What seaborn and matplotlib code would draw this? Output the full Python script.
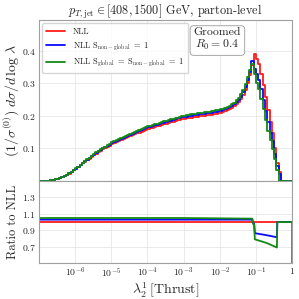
import numpy as np
import pandas as pd
import matplotlib
matplotlib.use("Agg")
import matplotlib.pyplot as plt
import seaborn as sns

# histogram values, 16 log-bins per decade from 1e-7 to 1
nll = [
    0.0, 0.0, 0.0002, 0.0005, 0.001, 0.002, 0.003, 0.005, 0.007, 0.009, 0.012, 0.015, 0.019, 0.023, 0.028, 0.033,
    0.037, 0.042, 0.048, 0.054, 0.059, 0.064, 0.069, 0.074, 0.079, 0.084, 0.088, 0.093, 0.097, 0.101, 0.105, 0.109,
    0.113, 0.116, 0.119, 0.122, 0.125, 0.128, 0.131, 0.134, 0.137, 0.140, 0.143, 0.146, 0.149, 0.152, 0.155, 0.158,
    0.160, 0.162, 0.164, 0.166, 0.168, 0.170, 0.172, 0.174, 0.176, 0.178, 0.180, 0.182, 0.184, 0.186, 0.188, 0.190,
    0.191, 0.192, 0.194, 0.195, 0.196, 0.197, 0.198, 0.199, 0.200, 0.201, 0.202, 0.203, 0.204, 0.205, 0.207, 0.208,
    0.210, 0.212, 0.215, 0.218, 0.221, 0.225, 0.230, 0.236, 0.243, 0.252, 0.264, 0.280, 0.300, 0.325, 0.355, 0.390,
    0.375, 0.360, 0.330, 0.295, 0.258, 0.218, 0.180, 0.148, 0.100, 0.055, 0.028, 0.0, 0.0, 0.0, 0.0, 0.0,
]
nll_sng = [
    0.0, 0.0, 0.0002, 0.0005, 0.001, 0.002, 0.003, 0.005, 0.007, 0.009, 0.012, 0.015, 0.020, 0.024, 0.029, 0.034,
    0.038, 0.043, 0.049, 0.056, 0.061, 0.066, 0.071, 0.076, 0.081, 0.087, 0.091, 0.096, 0.100, 0.104, 0.108, 0.112,
    0.116, 0.119, 0.123, 0.126, 0.129, 0.132, 0.135, 0.138, 0.141, 0.144, 0.147, 0.150, 0.153, 0.157, 0.160, 0.163,
    0.165, 0.167, 0.169, 0.171, 0.173, 0.175, 0.177, 0.179, 0.181, 0.183, 0.185, 0.187, 0.189, 0.192, 0.194, 0.196,
    0.197, 0.198, 0.200, 0.201, 0.202, 0.203, 0.204, 0.205, 0.206, 0.207, 0.208, 0.209, 0.210, 0.211, 0.213, 0.214,
    0.216, 0.218, 0.221, 0.224, 0.227, 0.231, 0.236, 0.242, 0.250, 0.259, 0.272, 0.290, 0.310, 0.335, 0.368, 0.345,
    0.330, 0.310, 0.282, 0.250, 0.215, 0.180, 0.148, 0.122, 0.083, 0.046, 0.022, 0.0, 0.0, 0.0, 0.0, 0.0,
]
nll_sg = [
    0.0, 0.0, 0.0002, 0.0005, 0.001, 0.002, 0.003, 0.005, 0.007, 0.010, 0.013, 0.016, 0.020, 0.024, 0.029, 0.035,
    0.039, 0.044, 0.050, 0.057, 0.062, 0.067, 0.072, 0.078, 0.083, 0.088, 0.092, 0.098, 0.102, 0.106, 0.110, 0.114,
    0.119, 0.122, 0.125, 0.128, 0.131, 0.134, 0.138, 0.141, 0.144, 0.147, 0.150, 0.153, 0.156, 0.160, 0.163, 0.166,
    0.168, 0.170, 0.172, 0.174, 0.176, 0.179, 0.181, 0.183, 0.185, 0.187, 0.189, 0.191, 0.193, 0.195, 0.197, 0.199,
    0.200, 0.202, 0.204, 0.205, 0.206, 0.207, 0.208, 0.209, 0.210, 0.211, 0.212, 0.213, 0.214, 0.215, 0.217, 0.218,
    0.220, 0.222, 0.225, 0.228, 0.231, 0.236, 0.241, 0.248, 0.256, 0.266, 0.280, 0.298, 0.318, 0.340, 0.358, 0.330,
    0.300, 0.282, 0.252, 0.222, 0.188, 0.155, 0.125, 0.098, 0.068, 0.035, 0.0, 0.0, 0.0, 0.0, 0.0, 0.0,
]

# ratio curves (log10 lambda, ratio)
ratio_nll_x = [-7.0, 0.0]
ratio_nll_y = [1.0, 1.0]
ratio_sng_x = [-7.0, -7.0, -1.10, -1.075, -1.05, -1.03, -0.7, -0.42, -0.41, 0.0]
ratio_sng_y = [0.0, 1.03, 1.03, 0.985, 0.985, 0.865, 0.84, 0.815, 1.0, 1.0]
ratio_sg_x = [-7.0, -7.0, -3.0, -1.10, -1.075, -1.05, -1.03, -0.7, -0.42, -0.41, 0.0, 0.0]
ratio_sg_y = [0.0, 1.05, 1.05, 1.042, 0.975, 0.975, 0.79, 0.745, 0.69, 1.0, 1.0, 0.0]

labels = ["NLL", r"NLL $\mathrm{S}_{\mathrm{non-global}}\ =\ 1$",
          r"NLL $\mathrm{S}_{\mathrm{global}}\ =\ \mathrm{S}_{\mathrm{non-global}}\ =\ 1$"]
colors = ["#ff1a1a", "#0a0aff", "#138a13"]

sns.set_style("whitegrid")
plt.rcParams["font.family"] = ["cmr10", "DejaVu Serif"]
plt.rcParams["mathtext.fontset"] = "cm"
plt.rcParams["axes.formatter.use_mathtext"] = True
plt.rcParams["axes.unicode_minus"] = False

edges = 10 ** np.linspace(-7, 0, len(nll) + 1)

fig = plt.figure(figsize=(2.99, 2.99), dpi=100)
gs = fig.add_gridspec(2, 1, height_ratios=[161, 82], hspace=0,
                      left=0.13, right=0.977, top=0.933, bottom=0.12)
ax = fig.add_subplot(gs[0])
axr = fig.add_subplot(gs[1], sharex=ax)

for a in (ax, axr):
    a.set_xscale("log")
    a.grid(True, color="#e6e6e6", lw=0.6)
    for s in a.spines.values():
        s.set_color("#a0a0a0")
        s.set_linewidth(0.8)
    a.tick_params(direction="in", length=3, width=0.6, color="#808080",
                  labelsize=7, pad=2)
    a.minorticks_off()

for vals, lab, col in zip([nll, nll_sng, nll_sg], labels, colors):
    df = pd.DataFrame({"x": edges, "y": list(vals) + [vals[-1]]})
    sns.lineplot(data=df, x="x", y="y", ax=ax, color=col, lw=1.3,
                 drawstyle="steps-post", label=lab, estimator=None)

for xs, ys, col in zip([ratio_nll_x, ratio_sng_x, ratio_sg_x],
                       [ratio_nll_y, ratio_sng_y, ratio_sg_y], colors):
    df = pd.DataFrame({"x": 10 ** np.array(xs), "y": ys})
    sns.lineplot(data=df, x="x", y="y", ax=axr, color=col, lw=1.3,
                 sort=False, estimator=None)

ax.set_xlim(10 ** -7.0, 1)
ax.set_ylim(0, 0.494)
ax.set_yticks([0.1, 0.2, 0.3, 0.4])
ax.set_ylabel(r"$(1/\sigma^{(0)})\;d\sigma/d\,\log\,\lambda$", fontsize=10, labelpad=1)
ax.set_xlabel("")
ax.tick_params(labelbottom=False)
ax.set_title(r"$p_{T,\mathrm{jet}} \in [408, 1500]$ GeV, parton-level", fontsize=8.8, pad=3)
ax.legend(loc="upper left", fontsize=6, frameon=True, fancybox=True,
          edgecolor="#cccccc", handlelength=2.2, handletextpad=1.0,
          borderpad=0.5, labelspacing=0.55, borderaxespad=0.4)
ax.text(0.705, 0.955, "Groomed\n$R_0 = 0.4$", transform=ax.transAxes, fontsize=8.5,
        ha="center", va="top", linespacing=1.1,
        bbox=dict(boxstyle="round,pad=0.3", fc="white", ec="#999999", lw=0.6))

axr.set_ylim(0.5, 1.5)
axr.set_yticks([0.7, 0.9, 1.1, 1.3])
axr.set_xticks([1e-6, 1e-5, 1e-4, 1e-3, 1e-2, 1e-1, 1])
axr.set_xticklabels([r"$10^{-6}$", r"$10^{-5}$", r"$10^{-4}$", r"$10^{-3}$",
                     r"$10^{-2}$", r"$10^{-1}$", r"$1$"])
axr.minorticks_off()
axr.set_ylabel("Ratio to NLL", fontsize=9, labelpad=2)
axr.set_xlabel(r"$\lambda_2^1\,$[Thrust]", fontsize=10, labelpad=1)

fig.savefig("out.png", dpi=100)
